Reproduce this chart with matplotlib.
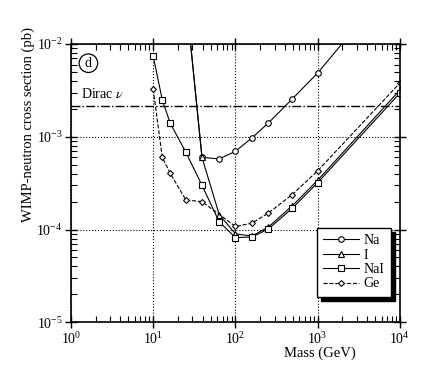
import numpy as np
import matplotlib
matplotlib.use("Agg")
import matplotlib.pyplot as plt
from matplotlib.ticker import LogLocator, LogFormatterMathtext, NullFormatter

plt.rcParams['font.family'] = ['Liberation Serif', 'DejaVu Serif']
plt.rcParams['mathtext.fontset'] = 'stix'

# values (mass in GeV, cross section in pb)
na_mass = [25, 39.2, 63.5, 100, 158, 250, 490, 1000, 2500]
na_sigma = [3.2e-2, 6.0e-4, 5.77e-4, 6.97e-4, 9.7e-4, 1.40e-3, 2.55e-3, 4.87e-3, 1.29e-2]

i_mass = [25, 39.2, 63.5, 100, 158, 250, 490, 1000, 10000]
i_sigma = [3.2e-2, 6.0e-4, 1.45e-4, 9.0e-5, 8.5e-5, 1.06e-4, 1.8e-4, 3.4e-4, 3.19e-3]

nai_mass = [10, 12.9, 16.1, 25, 39.2, 63.5, 100, 158, 250, 490, 1000, 10000]
nai_sigma = [7.4e-3, 2.5e-3, 1.40e-3, 6.8e-4, 3.0e-4, 1.21e-4, 8.2e-5, 8.3e-5, 1.01e-4, 1.69e-4, 3.2e-4, 2.96e-3]

ge_mass = [10, 12.9, 16.1, 25, 39.2, 100, 158, 250, 490, 1000, 10000]
ge_sigma = [3.25e-3, 6.0e-4, 4.05e-4, 2.08e-4, 2.0e-4, 1.08e-4, 1.17e-4, 1.5e-4, 2.38e-4, 4.3e-4, 3.8e-3]

dirac_sigma = 2.15e-3

fig = plt.figure(figsize=(4.30, 3.81), dpi=100)
ax = fig.add_axes([0.165, 0.154, 0.765, 0.7305])

mk = dict(color='black', lw=0.8, markerfacecolor='white', markeredgewidth=0.8)
ax.plot(na_mass, na_sigma, marker='o', markersize=4, label='Na', **mk)
ax.plot(i_mass, i_sigma, marker='^', markersize=4, label='I', **mk)
ax.plot(nai_mass, nai_sigma, marker='s', markersize=4, label='NaI', **mk)
ax.plot(ge_mass, ge_sigma, marker='D', markersize=3, ls='--', label='Ge', **mk)

ax.axhline(dirac_sigma, color='black', lw=1.0, ls='-.')
ax.text(1.32, 2.89e-3, r'Dirac $\nu$', fontsize=10, va='center', ha='left')

ax.text(0.053, 0.931, 'd', transform=ax.transAxes, fontsize=10, ha='center', va='center',
        bbox=dict(boxstyle='circle,pad=0.2', fc='white', ec='black', lw=0.9))

ax.set_xscale('log')
ax.set_yscale('log')
ax.set_xlim(1, 1e4)
ax.set_ylim(1e-5, 1e-2)

ax.xaxis.set_major_locator(LogLocator(base=10, numticks=10))
ax.yaxis.set_major_locator(LogLocator(base=10, numticks=10))
ax.xaxis.set_minor_locator(LogLocator(base=10, subs=np.arange(2, 10), numticks=20))
ax.yaxis.set_minor_locator(LogLocator(base=10, subs=np.arange(2, 10), numticks=20))
ax.xaxis.set_major_formatter(LogFormatterMathtext())
ax.yaxis.set_major_formatter(LogFormatterMathtext())
ax.xaxis.set_minor_formatter(NullFormatter())
ax.yaxis.set_minor_formatter(NullFormatter())

ax.tick_params(which='major', direction='inout', length=8, width=1.0, top=True, right=True,
               labelsize=10, pad=2)
ax.tick_params(which='minor', direction='in', length=4, width=0.8, top=True, right=True)
for s in ax.spines.values():
    s.set_linewidth(1.2)

ax.grid(which='major', color='black', ls=':', lw=0.8)

ax.set_xlabel('Mass (GeV)', fontsize=10.5)
ax.xaxis.set_label_coords(0.757, -0.088)
ax.set_ylabel('WIMP-neutron cross section (pb)', fontsize=10.5)
ax.yaxis.set_label_coords(-0.11, 0.709)

ax.legend(loc='upper left', bbox_to_anchor=(0.748, 0.339), borderaxespad=0, fontsize=10,
          fancybox=False, shadow={'color': 'black', 'alpha': 1.0, 'ox': 3, 'oy': -3},
          framealpha=1, edgecolor='black', handlelength=2.6, labelspacing=0.1,
          handletextpad=0.3, borderpad=0.45)

fig.savefig('out.png', dpi=100)
